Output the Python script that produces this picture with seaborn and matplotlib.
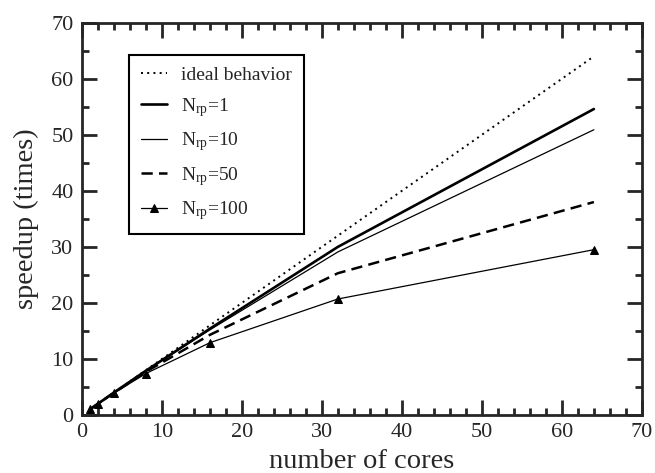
import matplotlib
matplotlib.use("Agg")
import matplotlib.pyplot as plt
import seaborn as sns
import pandas as pd
from matplotlib.ticker import MultipleLocator

cores = [1, 2, 4, 8, 16, 32, 64]
ideal = [1, 2, 4, 8, 16, 32, 64]
nrp1 = [1, 2, 4, 7.9, 15.4, 30.0, 54.6]
nrp10 = [1, 2, 4, 7.85, 15.2, 29.1, 50.9]
nrp50 = [1, 2, 3.95, 7.7, 14.3, 25.3, 38.0]
nrp100 = [1, 1.95, 3.9, 7.4, 12.9, 20.7, 29.5]

labels = ["ideal behavior", r"N$_{\rm rp}$=1", r"N$_{\rm rp}$=10",
          r"N$_{\rm rp}$=50", r"N$_{\rm rp}$=100"]
series = [ideal, nrp1, nrp10, nrp50, nrp100]

sns.set_style("ticks")
plt.rcParams["font.family"] = ["Liberation Serif", "DejaVu Serif"]
plt.rcParams["mathtext.fontset"] = "custom"
plt.rcParams["mathtext.rm"] = "Liberation Serif"
plt.rcParams["mathtext.it"] = "Liberation Serif:italic"

fig = plt.figure(figsize=(6.55, 4.73), dpi=100)
ax = fig.add_axes([0.125, 0.1226, 0.855, 0.8294])

styles = [
    dict(ls=(0, (1, 2.2)), lw=1.4, marker=None),
    dict(ls="-", lw=1.9, marker=None),
    dict(ls="-", lw=0.9, marker=None),
    dict(ls=(0, (4.5, 2.5)), lw=1.8, marker=None),
    dict(ls="-", lw=0.9, marker="^"),
]

for lab, vals, st in zip(labels, series, styles):
    df = pd.DataFrame({"cores": cores, "speedup": vals})
    kw = {}
    if st["marker"]:
        kw = dict(marker="^", markersize=5.5, markeredgecolor="black")
    sns.lineplot(data=df, x="cores", y="speedup", ax=ax, color="black",
                 linestyle=st["ls"], linewidth=st["lw"], label=lab, **kw)

ax.set_xlim(0, 70)
ax.set_ylim(0, 70)
ax.xaxis.set_major_locator(MultipleLocator(10))
ax.xaxis.set_minor_locator(MultipleLocator(2))
ax.yaxis.set_major_locator(MultipleLocator(10))
ax.yaxis.set_minor_locator(MultipleLocator(5))
ax.tick_params(which="both", direction="in", top=True, right=True,
               width=2, labelsize=16, pad=6)
ax.tick_params(which="major", length=11)
ax.tick_params(which="minor", length=5)
for s in ax.spines.values():
    s.set_linewidth(2)
    s.set_visible(True)

ax.set_xlabel("number of cores", fontsize=20.5, labelpad=5)
ax.set_ylabel("speedup (times)", fontsize=20.5, labelpad=9)

leg = ax.legend(loc="upper left", bbox_to_anchor=(0.084, 0.918),
                borderaxespad=0, fancybox=False, frameon=True,
                edgecolor="black", fontsize=14, handlelength=1.35,
                handletextpad=0.75, labelspacing=0.6, borderpad=0.6)
leg.get_frame().set_linewidth(1.5)
leg.get_frame().set_alpha(1)

fig.savefig("out.png", dpi=100)
